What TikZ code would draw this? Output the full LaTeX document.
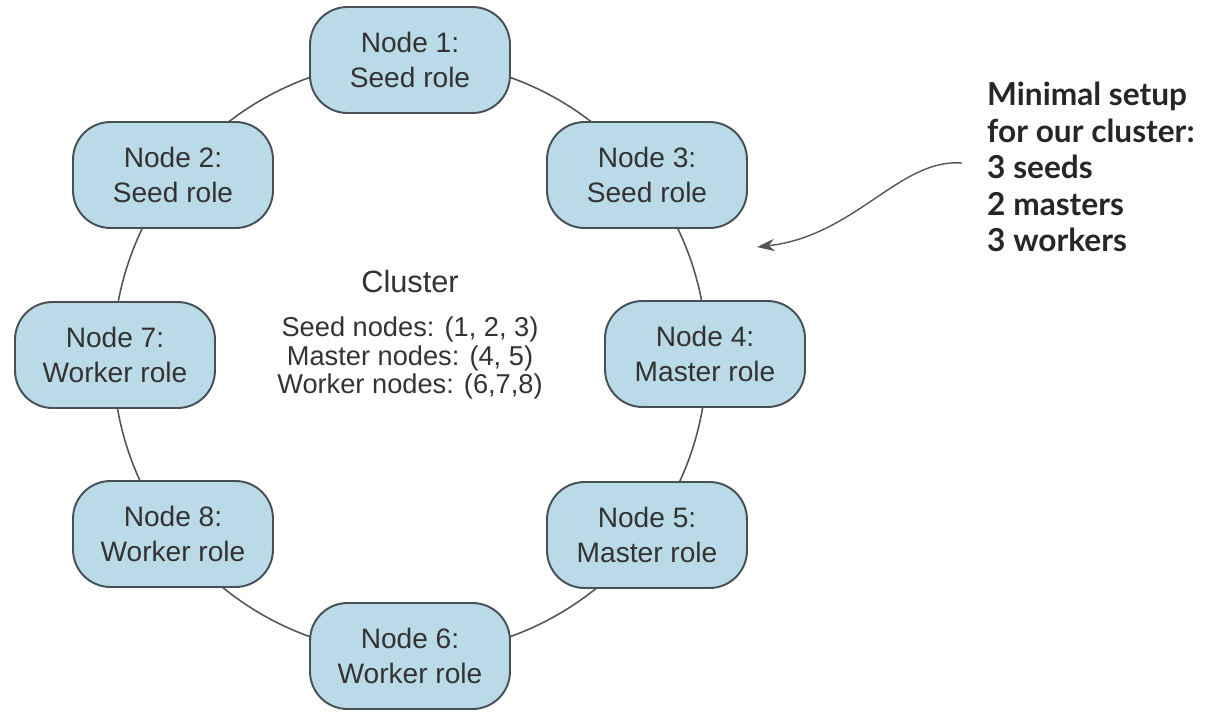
\documentclass[tikz,border=0pt]{standalone}
\usepackage{fontspec}
\setmainfont{Liberation Sans}
\newfontfamily\notefont{Lato}
\usetikzlibrary{arrows.meta}
\definecolor{boxblue}{RGB}{186,218,232}
\definecolor{boxline}{RGB}{70,80,86}
\definecolor{ringgray}{RGB}{85,85,85}
\begin{document}
\begin{tikzpicture}[x=0.02cm,y=-0.02cm,
  role/.style={rectangle,rounded corners=0.75cm,draw=boxline,line width=1.1pt,fill=boxblue,
    minimum width=4cm,minimum height=2.12cm,align=center,font=\fontsize{16}{19.8}\selectfont,text=black!80}]
\useasboundingbox (0,0) rectangle (1206,711);
\draw[ringgray,line width=0.9pt] (410,357) circle (5.94cm);

\node[role] (n1) at (410,60) {Node 1:\\Seed role};
\node[role] (n2) at (173,175) {Node 2:\\Seed role};
\node[role] (n3) at (647,175) {Node 3:\\Seed role};
\node[role] (n7) at (115,355) {Node 7:\\Worker role};
\node[role] (n4) at (705,354) {Node 4:\\Master role};
\node[role] (n8) at (173,534) {Node 8:\\Worker role};
\node[role] (n5) at (647,535) {Node 5:\\Master role};
\node[role] (n6) at (410,656) {Node 6:\\Worker role};

\node[font=\fontsize{17.5}{20}\selectfont,text=black!80] (title) at (410,282) {Cluster};
\node[align=center,font=\fontsize{15.5}{16.4}\selectfont,text=black!80] (roles) at (410,358)
  {Seed nodes: (1, 2, 3)\\Master nodes: (4, 5)\\Worker nodes: (6,7,8)};

\node[align=left,anchor=west,font=\notefont\bfseries\fontsize{18}{20.8}\selectfont,text=black!85] (note) at (981,167)
  {Minimal setup\\for our cluster:\\3 seeds\\2 masters\\3 workers};
\coordinate (tip) at (757,247);
\draw[ringgray,line width=0.8pt,-{Stealth[length=10pt,width=7pt]}] (962,163) .. controls (900,158) and (855,236) .. (tip);
\end{tikzpicture}
\end{document}
